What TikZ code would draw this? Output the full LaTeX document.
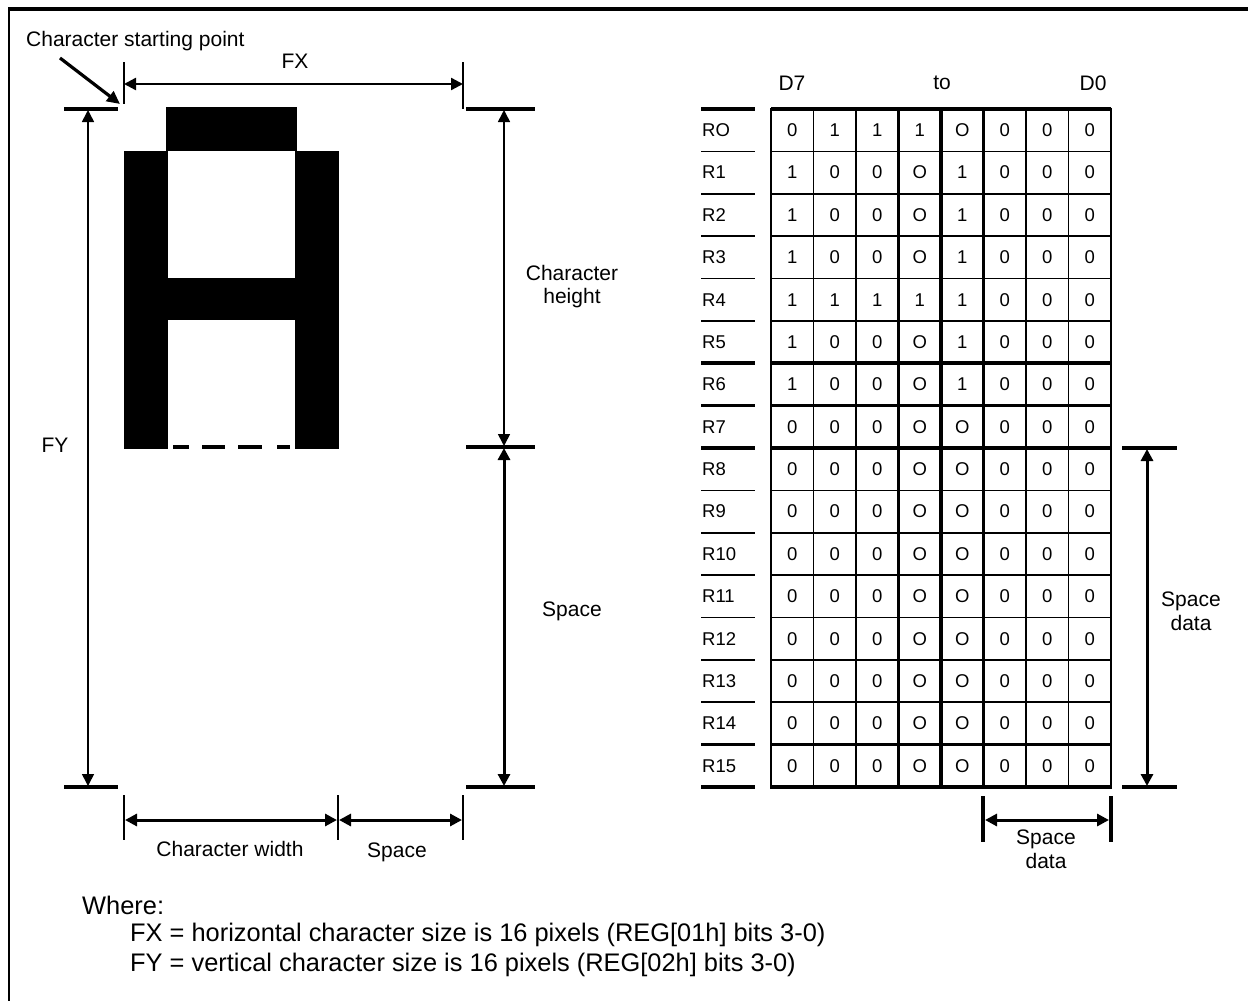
\documentclass[tikz,border=0pt]{standalone}
\usepackage{fontspec}
\setmainfont{Liberation Sans}
\usetikzlibrary{arrows.meta}
\newcommand\cellval[2]{\ifnum#1>2\relax\ifnum#1<5\relax\ifnum#2=0\relax O\else#2\fi\else#2\fi\else#2\fi}
\begin{document}
\begin{tikzpicture}[x=1pt,y=-1pt,
  lbl/.style={font=\fontsize{21}{25}\selectfont, inner sep=0pt},
  cellnum/.style={font=\fontsize{18.5}{22}\selectfont, inner sep=0pt},
  note/.style={font=\fontsize{25.4}{30}\selectfont, inner sep=0pt, anchor=west},
  thinln/.style={line width=1.6pt},
  medln/.style={line width=2.4pt},
  thickln/.style={line width=3.6pt},
  dimboth/.style={{Triangle[length=12pt,width=12pt]}-{Triangle[length=12pt,width=12pt]}},
  dimone/.style={-{Triangle[length=13pt,width=12pt]}},
  pix/.style={fill=black, draw=none}]
\useasboundingbox (0,0) rectangle (1248,1001);
% frame
\draw[line width=2.2pt] (9,1001) -- (9,9);
\draw[line width=4pt] (8,9) -- (1248,9);
% ---------- glyph A ----------
\fill[pix] (166,107) rectangle (297,151);
\fill[pix] (124,151) rectangle (168,449);
\fill[pix] (295,151) rectangle (339,449);
\fill[pix] (168,278) rectangle (295,320);
\draw[line width=4pt, dash pattern=on 16pt off 13pt on 23pt off 13pt on 24pt off 15pt on 13pt] (173,447) -- (290,447);
% ---------- starting point ----------
\node[lbl, anchor=west] (csp) at (26,41) {Character starting point};
\coordinate (cspA) at (60,58);
\coordinate (cspB) at (120,104);
\draw[line width=3.2pt, dimone] (cspA) -- (cspB);
% ---------- FX ----------
\coordinate (fxtl1) at (124,62); \coordinate (fxtl2) at (124,104);
\coordinate (fxtr1) at (463,62); \coordinate (fxtr2) at (463,109);
\draw[thinln] (fxtl1) -- (fxtl2);
\draw[thinln] (fxtr1) -- (fxtr2);
\coordinate (fxL) at (124,84); \coordinate (fxR) at (463,84);
\draw[medln, dimboth] (fxL) -- (fxR);
\node[lbl] (fx) at (295,61) {FX};
% ---------- FY ----------
\draw[thickln] (64,109) -- (118,109);
\draw[thickln] (64,787) -- (118,787);
\coordinate (fyT) at (88,110); \coordinate (fyB) at (88,786);
\draw[thinln, dimboth] (fyT) -- (fyB);
\node[lbl] (fy) at (55,445) {FY};
% ---------- right of glyph ----------
\draw[thickln] (466,109) -- (535,109);
\draw[thickln] (466,447) -- (535,447);
\draw[thickln] (466,787) -- (535,787);
\coordinate (chT) at (504,110); \coordinate (chB) at (504,446);
\coordinate (spT) at (504,448); \coordinate (spB) at (504,786);
\draw[thinln, dimboth] (chT) -- (chB);
\draw[line width=3pt, dimboth] (spT) -- (spB);
\node[lbl] (ch1) at (572,273) {Character};
\node[lbl] (ch2) at (572,298) {height};
\node[lbl] (sp) at (572,611) {Space};
% ---------- bottom of glyph ----------
\draw[thinln] (124,795) -- (124,840);
\draw[thinln] (338,795) -- (338,840);
\draw[thinln] (463,795) -- (463,840);
\coordinate (cwL) at (125,820); \coordinate (cwR) at (337,820);
\coordinate (swL) at (339,820); \coordinate (swR) at (462,820);
\draw[line width=3pt, dimboth] (cwL) -- (cwR);
\draw[line width=3pt, dimboth] (swL) -- (swR);
\node[lbl] (cw) at (230,849) {Character width};
\node[lbl] (sw) at (397,852) {Space};
% ---------- grid ----------
\node[lbl] (d7) at (792,83) {D7};
\node[lbl] (to) at (942,83) {to};
\node[lbl] (d0) at (1093,83) {D0};
\foreach \k in {0,...,16} {
  \draw[thinln] (771,109+\k*42.375) -- (1111,109+\k*42.375);
  \draw[thinln] (701,109+\k*42.375) -- (755,109+\k*42.375);
}
\foreach \k in {0,6,7,8,15,16} {
  \draw[thickln] (771,109+\k*42.375) -- (1111,109+\k*42.375);
  \draw[thickln] (701,109+\k*42.375) -- (755,109+\k*42.375);
}
\foreach \k in {1,2,6,7} {
  \draw[thinln] (771+\k*42.5,109) -- (771+\k*42.5,787);
}
\foreach \k in {3,4,5} {
  \draw[thickln] (771+\k*42.5,109) -- (771+\k*42.5,787);
}
\draw[medln] (771,107.5) -- (771,788.5);
\draw[medln] (1111,107.5) -- (1111,788.5);
\foreach \r/\lab/\vals in {
  0/RO/{0,1,1,1,0,0,0,0},
  1/R1/{1,0,0,0,1,0,0,0},
  2/R2/{1,0,0,0,1,0,0,0},
  3/R3/{1,0,0,0,1,0,0,0},
  4/R4/{1,1,1,1,1,0,0,0},
  5/R5/{1,0,0,0,1,0,0,0},
  6/R6/{1,0,0,0,1,0,0,0},
  7/R7/{0,0,0,0,0,0,0,0},
  8/R8/{0,0,0,0,0,0,0,0},
  9/R9/{0,0,0,0,0,0,0,0},
  10/R10/{0,0,0,0,0,0,0,0},
  11/R11/{0,0,0,0,0,0,0,0},
  12/R12/{0,0,0,0,0,0,0,0},
  13/R13/{0,0,0,0,0,0,0,0},
  14/R14/{0,0,0,0,0,0,0,0},
  15/R15/{0,0,0,0,0,0,0,0}} {
  \node[cellnum, anchor=west] (row\r) at (702,130.2+\r*42.375) {\lab};
  \foreach \v [count=\c from 0] in \vals {
    \node[cellnum] (cell-\r-\c) at (792.25+\c*42.5,130.2+\r*42.375) {\cellval{\c}{\v}};
  }
}
% ---------- space data (right) ----------
\draw[thickln] (1122,448) -- (1177,448);
\draw[thickln] (1122,787) -- (1177,787);
\coordinate (sdT) at (1147,449); \coordinate (sdB) at (1147,786);
\draw[line width=3pt, dimboth] (sdT) -- (sdB);
\node[lbl] (sd1) at (1191,601) {Space};
\node[lbl] (sd2) at (1191,623) {data};
% ---------- space data (bottom) ----------
\draw[thickln] (983,796) -- (983,842);
\draw[thickln] (1111,796) -- (1111,842);
\coordinate (sbL) at (985,820); \coordinate (sbR) at (1109,820);
\draw[line width=3pt, dimboth] (sbL) -- (sbR);
\node[lbl] (sb1) at (1046,839) {Space};
\node[lbl] (sb2) at (1046,861) {data};
% ---------- notes ----------
\node[note] (where) at (82,905) {Where:};
\node[note] (fxn) at (130,935) {FX = horizontal character size is 16 pixels (REG[01h] bits 3-0)};
\node[note] (fyn) at (130,965) {FY = vertical character size is 16 pixels (REG[02h] bits 3-0)};
\end{tikzpicture}
\end{document}
